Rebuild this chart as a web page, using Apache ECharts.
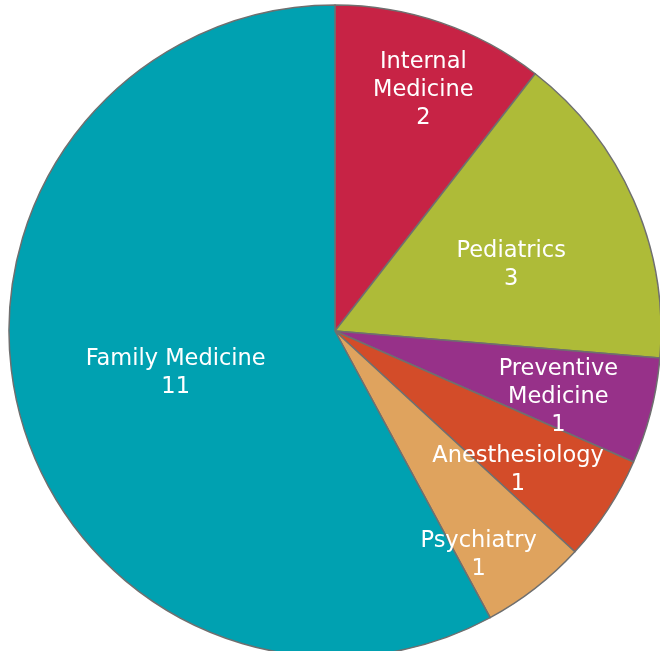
<!DOCTYPE html>
<html>
<head>
<meta charset="utf-8">
<script src="https://cdn.jsdelivr.net/npm/echarts@6/dist/echarts.min.js"></script>
<style>
  html, body { margin: 0; padding: 0; background: #fff; }
  #chart { width: 660px; height: 651px; }
</style>
</head>
<body>
<div id="chart"></div>
<script>
// specialties, clockwise from 12 o'clock
const specialties = ['Internal\nMedicine', 'Pediatrics', 'Preventive\nMedicine', 'Anesthesiology', 'Psychiatry', 'Family Medicine']
const counts = [2, 3, 1, 1, 1, 11]
const colors = ['#C72345', '#AEBB38', '#973189', '#D34C29', '#DFA35E', '#00A1B1']

// where each label sits: distance from centre (px) and a small angle nudge (deg)
const labelRadius = [256, 186, 229, 225, 261, 161]
const labelNudge = [1, 2.5, 1.5, 3.5, 5, 0.5]

const cx = 335, cy = 331, R = 326
const total = counts.reduce((a, b) => a + b, 0)

let acc = 0
const pieData = counts.map((v, i) => {
  const mid = (acc + v / 2) / total * 360
  acc += v
  const a = (mid * Math.PI) / 180
  const b = ((mid + labelNudge[i]) * Math.PI) / 180
  // default 'inside' position is at R/2 on the mid angle
  const ix = (R / 2) * Math.sin(a), iy = -(R / 2) * Math.cos(a)
  const tx = labelRadius[i] * Math.sin(b), ty = -labelRadius[i] * Math.cos(b)
  return {
    name: specialties[i],
    value: v,
    itemStyle: { color: colors[i] },
    label: { offset: [tx - ix, ty - iy + 3] }
  }
})

const chart = echarts.init(document.getElementById('chart'))
chart.setOption({
  animation: false,
  series: [{
    type: 'pie',
    center: [cx, cy],
    radius: R,
    startAngle: 90,
    clockwise: true,
    avoidLabelOverlap: false,
    itemStyle: { borderColor: '#6f6f6f', borderWidth: 1.5 },
    label: {
      show: true,
      position: 'inside',
      color: '#ffffff',
      fontFamily: 'DejaVu Sans',
      fontSize: 22.5,
      lineHeight: 28,
      formatter: p => p.name + '\n' + p.value
    },
    labelLine: { show: false },
    emphasis: { disabled: true },
    data: pieData
  }]
})
</script>
</body>
</html>
